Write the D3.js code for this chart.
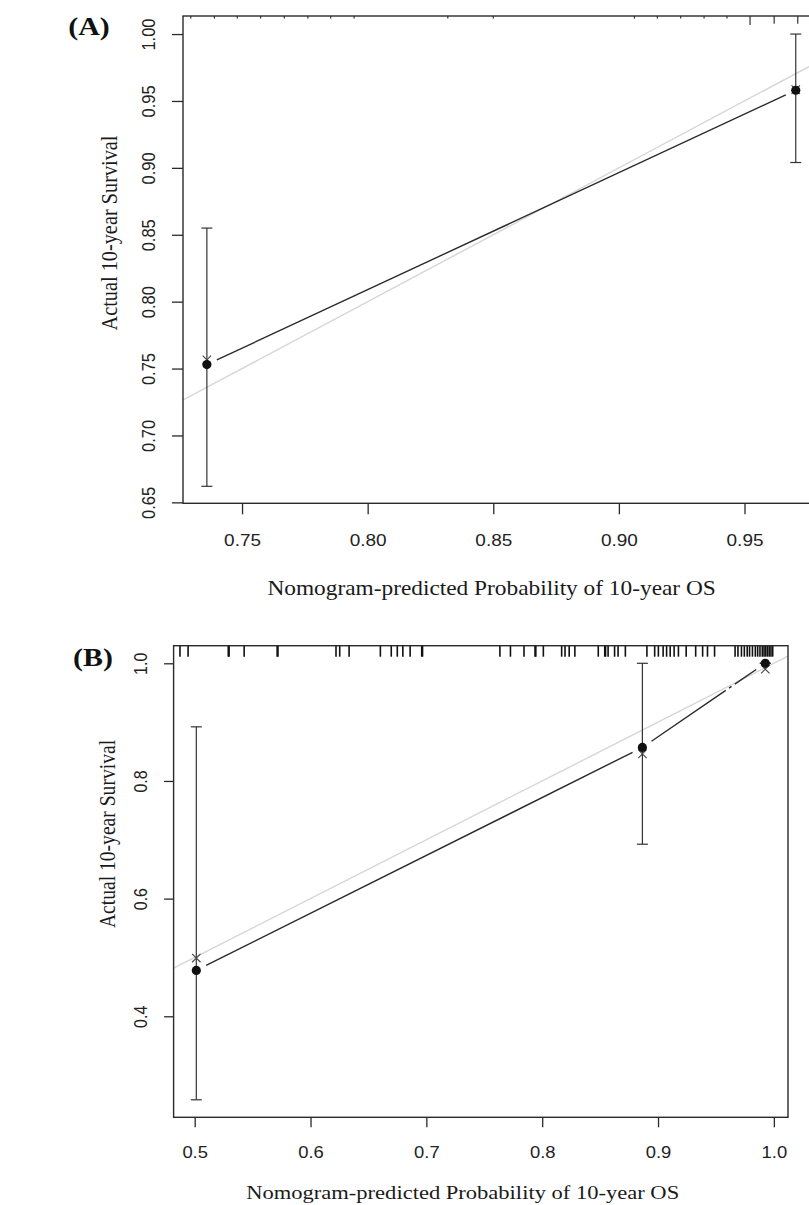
<!DOCTYPE html>
<html><head><meta charset="utf-8">
<script src="https://cdn.jsdelivr.net/npm/d3@7"></script>
<style>html,body{margin:0;padding:0;background:#fff;} svg{display:block;background:#fff;}</style>
</head><body>
<svg id="chart" width="809" height="1205"></svg>
<script>
// ---------------- Panel A data ----------------
const predA = [0.736, 0.9704];          // nomogram-predicted probability
const obsA  = [0.753, 0.958];           // observed (dots)
const lowA  = [0.662, 0.904];           // lower CI
const highA = [0.855, 1.000];           // upper CI
const corrA = [0.7565, 0.9585];         // bias-corrected (x markers)
const spikeXA = [0.7296,0.7390,0.7481,0.7574,0.7668,0.7762,0.7853,0.7946,0.8319,0.8500,0.9062,0.9153,0.9246,0.9339,0.9430,0.9522,0.9618,0.9712];
const spikeNA = [1,1,1,1,1,1,1,1,1,1,1,1,1,1,1,3.5,3,3];
const xTicksA = [0.75,0.80,0.85,0.90,0.95];
const yTicksA = [0.65,0.70,0.75,0.80,0.85,0.90,0.95,1.00];

// ---------------- Panel B data ----------------
const predB = [0.5014, 0.8865, 0.9926];
const obsB  = [0.478, 0.857, 1.000];
const lowB  = [0.258, 0.6925, 1.000];
const highB = [0.892, 1.000, 1.000];
const corrB = [0.499, 0.846, 0.990];
const rugB = [0.4873,0.4943,0.5290,0.5297,0.5427,0.5712,0.5719,0.6220,0.6252,0.6333,0.6603,0.6697,0.6749,0.6797,0.6860,0.6960,0.6967,
  0.7635,0.7726,0.7843,0.7938,0.7945,0.8010,0.8168,0.8197,0.8233,0.8282,0.8484,0.8540,0.8547,0.8569,0.8625,0.8655,0.8718,
  0.8904,0.8971,0.9003,0.9044,0.9074,0.9105,0.9139,0.9176,0.9243,0.9325,0.9385,0.9427,0.9488,
  0.9665,0.9690,0.9720,0.9745,0.9770,0.9790,0.9815,0.9840,0.9860,0.9880,0.9900,0.9915,0.9930,0.9945,0.9960,0.9975,0.9990];
const xTicksB = [0.5,0.6,0.7,0.8,0.9,1.0];
const yTicksB = [0.4,0.6,0.8,1.0];

const xTitle = "Nomogram-predicted Probability of 10-year OS";
const yTitle = "Actual 10-year Survival";

const SX = 1.15; // horizontal stretch of the original image
const svg = d3.select('#chart');
const SERIF = "'Liberation Serif','Times New Roman',serif";
const SANS = "'Liberation Sans',Arial,Helvetica,sans-serif";

function drawPanel(o) {
  const x = d3.scaleLinear().domain(o.xDom).range([o.left, o.right]);
  const y = d3.scaleLinear().domain(o.yDom).range([o.bottom, o.top]);
  const g = svg.append('g');
  const clipId = 'clip' + o.id;
  g.append('clipPath').attr('id', clipId).append('rect')
    .attr('x', o.left).attr('y', o.top).attr('width', o.right - o.left).attr('height', o.bottom - o.top);

  // ideal line y = x
  g.append('line').attr('clip-path', `url(#${clipId})`)
    .attr('x1', x(o.xDom[0])).attr('y1', y(o.xDom[0]))
    .attr('x2', x(o.xDom[1])).attr('y2', y(o.xDom[1]))
    .attr('stroke', '#d6d6d6').attr('stroke-width', 1.4);

  // connecting line, R type "b" (gaps at the points)
  const pts = o.pred.map((p,i)=>[x(p), y(o.obs[i])]);
  const gap = 11;
  for (let i = 0; i < pts.length - 1; i++) {
    const [x1,y1] = pts[i], [x2,y2] = pts[i+1];
    const L = Math.hypot(x2-x1, y2-y1), ux = (x2-x1)/L, uy = (y2-y1)/L;
    g.append('line')
      .attr('x1', x1+ux*gap).attr('y1', y1+uy*gap)
      .attr('x2', x2-ux*gap).attr('y2', y2-uy*gap)
      .attr('stroke', '#2a2a2a').attr('stroke-width', 1.4)
      .attr('stroke-dasharray', (o.dash && i === pts.length - 2) ? o.dash : null);
  }

  // error bars
  const cap = 5.5;
  o.pred.forEach((p,i)=>{
    const xx = x(p);
    g.append('line').attr('x1', xx).attr('x2', xx).attr('y1', y(o.low[i])).attr('y2', y(o.high[i]))
      .attr('stroke', '#333').attr('stroke-width', 1.2);
    [o.low[i], o.high[i]].forEach(v=>{
      g.append('line').attr('x1', xx-cap).attr('x2', xx+cap).attr('y1', y(v)).attr('y2', y(v))
        .attr('stroke', '#333').attr('stroke-width', 1.2);
    });
  });

  // x markers (bias-corrected)
  const xs = 4.2;
  o.pred.forEach((p,i)=>{
    const cx = x(p), cy = y(o.corr[i]);
    g.append('path').attr('d', `M${cx-xs},${cy-xs}L${cx+xs},${cy+xs}M${cx-xs},${cy+xs}L${cx+xs},${cy-xs}`)
      .attr('stroke', '#444').attr('stroke-width', 1.1).attr('fill', 'none');
  });
  // dots (observed)
  g.selectAll(null).data(o.pred).enter().append('circle')
    .attr('cx', d=>x(d)).attr('cy', (d,i)=>y(o.obs[i])).attr('r', 4.6).attr('fill', '#111');

  // rug / spike histogram along top
  if (o.rug) {
    g.selectAll(null).data(o.rug).enter().append('line')
      .attr('x1', d=>x(d)).attr('x2', d=>x(d)).attr('y1', o.top).attr('y2', o.top + o.rugLen)
      .attr('stroke', '#111').attr('stroke-width', 1.6);
  }
  if (o.spikeX) {
    g.selectAll(null).data(o.spikeX).enter().append('line')
      .attr('x1', d=>x(d)).attr('x2', d=>x(d)).attr('y1', o.top)
      .attr('y2', (d,i)=> o.top + o.spikeN[i]*2.6)
      .attr('stroke', '#333').attr('stroke-width', 1.2);
  }

  // box
  g.append('rect').attr('x', o.left).attr('y', o.top)
    .attr('width', o.right - o.left).attr('height', o.bottom - o.top)
    .attr('fill', 'none').attr('stroke', '#2a2a2a').attr('stroke-width', 1.4);

  // axes
  const ax = g.append('g').attr('transform', `translate(0,${o.bottom})`)
    .call(d3.axisBottom(x).tickValues(o.xTicks).tickFormat(d3.format(o.fmt)).tickSizeOuter(0).tickSizeInner(o.xTickLen));
  ax.select('.domain').remove();
  ax.selectAll('line').attr('stroke', '#2a2a2a').attr('stroke-width', 1.3);
  ax.selectAll('text').attr('y', null).attr('dy', null)
    .attr('transform', `translate(0,${o.xLabBase - o.bottom}) scale(${SX},1)`)
    .attr('font-family', SANS).attr('font-size', o.tickFont).attr('fill', '#222');

  const ay = g.append('g').attr('transform', `translate(${o.left},0)`)
    .call(d3.axisLeft(y).tickValues(o.yTicks).tickFormat(d3.format(o.fmt)).tickSizeOuter(0).tickSizeInner(o.yTickLen));
  ay.select('.domain').remove();
  ay.selectAll('line').attr('stroke', '#2a2a2a').attr('stroke-width', 1.3);
  ay.selectAll('text').attr('x', null).attr('dy', null).attr('text-anchor', 'middle')
    .attr('transform', `translate(${o.yLabBase - o.left},0) scale(${SX},1) rotate(-90)`)
    .attr('font-family', SANS).attr('font-size', o.tickFont).attr('fill', '#222');
  g.selectAll('.tick text').attr('font-family', SANS);

  // titles
  g.append('text').text(xTitle).attr('text-anchor', 'middle')
    .attr('transform', `translate(${o.xTitleX},${o.xTitleBase}) scale(${SX},1)`)
    .attr('font-family', SERIF).attr('font-size', o.titleFont).attr('fill', '#1a1a1a');
  g.append('text').text(yTitle).attr('text-anchor', 'middle')
    .attr('transform', `translate(${o.yTitleBase},${o.yTitleY}) scale(${SX},1) rotate(-90)`)
    .attr('font-family', SERIF).attr('font-size', o.titleFont).attr('fill', '#1a1a1a');
  g.append('text').text(o.tag).attr('text-anchor', 'middle')
    .attr('transform', `translate(${o.tagX},${o.tagBase}) scale(${SX},1)`)
    .attr('font-family', SERIF).attr('font-weight', 'bold').attr('font-size', 26).attr('fill', '#111');
}

drawPanel({
  id: 'A', tag: '(A)', tagX: 89, tagBase: 35,
  left: 183, right: 845, top: 16, bottom: 503.3,
  xDom: [0.7265, 0.99], yDom: [0.6493, 1.0135],
  pred: predA, obs: obsA, low: lowA, high: highA, corr: corrA,
  spikeX: spikeXA, spikeN: spikeNA,
  xTicks: xTicksA, yTicks: yTicksA, fmt: '.2f',
  xTickLen: 11, yTickLen: 11, tickFont: 16.5,
  xLabBase: 546, yLabBase: 155,
  titleFont: 20.3, xTitleX: 491.6, xTitleBase: 595, yTitleBase: 117, yTitleY: 233
});

drawPanel({
  id: 'B', tag: '(B)', tagX: 93, tagBase: 666,
  left: 173.6, right: 788, top: 645.7, bottom: 1117.3,
  xDom: [0.4818, 1.0122], yDom: [0.2283, 1.0299],
  pred: predB, obs: obsB, low: lowB, high: highB, corr: corrB,
  rug: rugB, rugLen: 11, dash: '90,4,3,4,200',
  xTicks: xTicksB, yTicks: yTicksB, fmt: '.1f',
  xTickLen: 10, yTickLen: 9.5, tickFont: 16,
  xLabBase: 1158, yLabBase: 146.7,
  titleFont: 19.6, xTitleX: 462.7, xTitleBase: 1199, yTitleBase: 115, yTitleY: 834
});
</script>
</body></html>
